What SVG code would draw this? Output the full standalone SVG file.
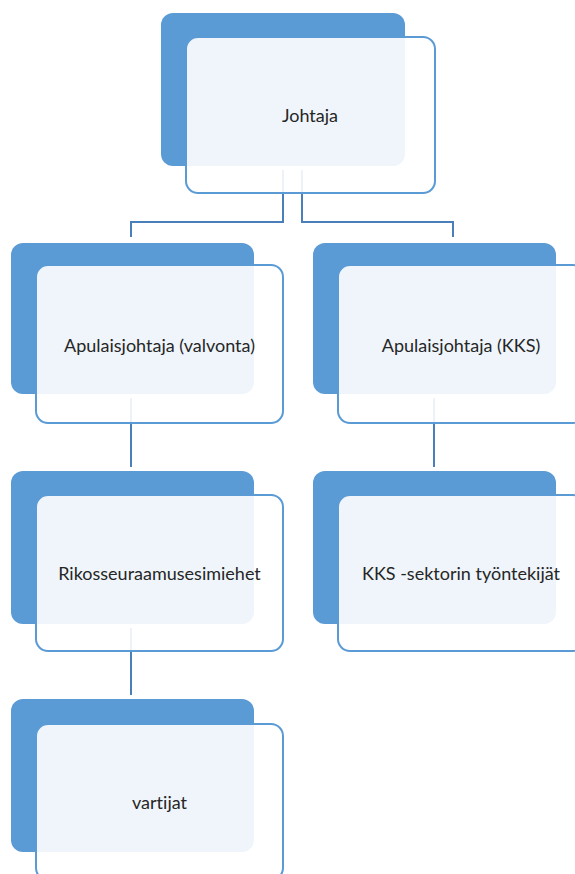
<svg xmlns="http://www.w3.org/2000/svg" width="575" height="874" viewBox="0 0 575 874">
<style>
.back{fill:#5b9bd5}
.front{fill:#ffffff;fill-opacity:0.9;stroke:#5b9bd5;stroke-width:2}
.lbl{font-family:Lato,"Open Sans","Liberation Sans",sans-serif;font-size:18px;fill:#262626;text-anchor:middle;dominant-baseline:central;font-variant-ligatures:none}
.conn{fill:none;stroke:#4a7fba;stroke-width:2}
</style>
<rect width="575" height="874" fill="#ffffff"/>
<g id="connectors">
<path class="conn" d="M283,170 V222 H131 V237"/>
<path class="conn" d="M302,170 V222 H453 V237"/>
<path class="conn" d="M131,398 V467"/>
<path class="conn" d="M434,398 V467"/>
<path class="conn" d="M131,628 V695"/>
</g>
<g id="johtaja">
<rect class="back" x="161" y="13" width="244" height="153" rx="12"/>
<rect class="front" x="186" y="37" width="249" height="156" rx="12"/>
<text class="lbl" x="310" y="115">Johtaja</text>
</g>
<g id="apulaisjohtaja-valvonta">
<rect class="back" x="11" y="243" width="243" height="151" rx="12"/>
<rect class="front" x="36" y="265" width="247" height="158" rx="12"/>
<text class="lbl" x="159.5" y="345">Apulaisjohtaja (valvonta)</text>
</g>
<g id="apulaisjohtaja-kks">
<rect class="back" x="313" y="243" width="243" height="151" rx="12"/>
<rect class="front" x="338" y="265" width="247" height="158" rx="12"/>
<text class="lbl" x="461" y="345">Apulaisjohtaja (KKS)</text>
</g>
<g id="rikosseuraamusesimiehet">
<rect class="back" x="11" y="471" width="243" height="153" rx="12"/>
<rect class="front" x="36" y="495" width="247" height="156" rx="12"/>
<text class="lbl" x="159.5" y="573">Rikosseuraamusesimiehet</text>
</g>
<g id="kks-sektorin-tyontekijat">
<rect class="back" x="313" y="471" width="243" height="153" rx="12"/>
<rect class="front" x="338" y="495" width="247" height="156" rx="12"/>
<text class="lbl" x="461" y="573">KKS -sektorin työntekijät</text>
</g>
<g id="vartijat">
<rect class="back" x="11" y="699" width="243" height="153" rx="12"/>
<rect class="front" x="36" y="724" width="247" height="156" rx="12"/>
<text class="lbl" x="159.5" y="802">vartijat</text>
</g>
</svg>
